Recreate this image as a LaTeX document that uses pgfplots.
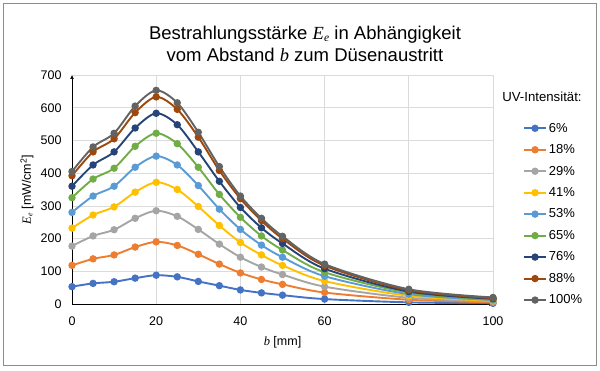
\documentclass[border=0pt]{standalone}
\usepackage{fontspec}
\setmainfont{Liberation Sans}
\newfontfamily\tnr{Liberation Serif}
\usepackage{graphicx}
\usepackage{pgfplots}
\pgfplotsset{compat=1.18}
\usetikzlibrary{arrows.meta}
\newcommand\Ee{{\tnr\itshape E\kern0.02em\raisebox{-0.28ex}{\scalebox{0.62}{e}}}}
\newcommand\bvar{{\tnr\itshape b}}
\definecolor{c1}{HTML}{4472C4}
\definecolor{c2}{HTML}{ED7D31}
\definecolor{c3}{HTML}{A5A5A5}
\definecolor{c4}{HTML}{FFC000}
\definecolor{c5}{HTML}{5B9BD5}
\definecolor{c6}{HTML}{70AD47}
\definecolor{c7}{HTML}{264478}
\definecolor{c8}{HTML}{9E480E}
\definecolor{c9}{HTML}{636363}
\pgfplotstableread{
x  a   b   c   d   e   f   g   h   i
0  53  118 177 232 280 325 360 392 405
5  63  138 208 272 330 382 425 465 480
10 68  150 227 297 360 415 465 505 522
15 79  174 262 342 418 482 538 585 605
20 88  190 285 372 452 522 583 633 653
25 83  179 268 350 425 490 548 595 615
30 69  152 228 298 362 418 465 510 525
35 56  122 183 240 290 335 375 408 420
40 43  95  143 188 228 265 295 322 330
45 34  75  113 150 180 208 233 255 262
50 27  60  90  118 143 165 185 200 207
60 15  35  53  70  85  97  108 117 122
80 5   13  19  25  30  35  38  42  45
100 2  5   8   10  12  14  16  18  20
}\data
\begin{document}
\begin{tikzpicture}[x=1pt,y=1pt]
\path[use as bounding box] (0,0) rectangle (600,371);
\draw[color=black!45, line width=0.8pt] (3.5,5.5) rectangle (596.5,367.5);
\node[font=\fontsize{18.5}{22}\selectfont, align=center] at (305,327) {Bestrahlungsstärke \Ee{} in Abhängigkeit\\vom Abstand \bvar{} zum Düsenaustritt};
\node[font=\fontsize{13.2}{15}\selectfont] at (542,274) {UV-Intensität:};
\begin{axis}[
  at={(72pt,67pt)}, anchor=south west,
  scale only axis, width=421pt, height=229pt,
  xmin=0, xmax=100, ymin=0, ymax=700,
  xtick={0,20,...,100}, ytick={0,100,...,700},
  grid=major, major grid style={color=black!14, line width=0.7pt},
  axis lines=left,
  axis line style={black, line width=0.7pt, -{Latex[length=4pt,width=4pt]}},
  major tick length=0pt,
  /pgf/number format/assume math mode=true,
  tick label style={font=\fontsize{12.5}{15}\selectfont},
  xticklabel style={yshift=-9pt},
  yticklabel style={xshift=-7pt},
  xlabel={\bvar{} [mm]},
  ylabel={\Ee{} [mW/cm\textsuperscript{2}]},
  label style={font=\fontsize{12.5}{15}\selectfont},
  xlabel style={at={(axis description cs:0.5,0)}, anchor=center, yshift=-38pt},
  ylabel style={at={(axis description cs:-0.107,0.5)}, anchor=center, rotate=0},
  clip=false,
  every axis plot/.append style={smooth, line width=1.9pt, mark=*, mark size=2.7pt},
  legend style={at={(axis description cs:1.071,0.80)}, anchor=north west, draw=none, fill=none,
    font=\fontsize{13}{15}\selectfont, row sep=6.9pt, inner sep=0pt, cells={anchor=west}},
  legend image code/.code={\draw[mark repeat=2,mark phase=2] plot coordinates {(0pt,0pt)(11pt,0pt)(22pt,0pt)};},
]
\addplot[c1] table[x=x,y=a]{\data};
\addplot[c2] table[x=x,y=b]{\data};
\addplot[c3] table[x=x,y=c]{\data};
\addplot[c4] table[x=x,y=d]{\data};
\addplot[c5] table[x=x,y=e]{\data};
\addplot[c6] table[x=x,y=f]{\data};
\addplot[c7] table[x=x,y=g]{\data};
\addplot[c8] table[x=x,y=h]{\data};
\addplot[c9] table[x=x,y=i]{\data};
\legend{6\%,18\%,29\%,41\%,53\%,65\%,76\%,88\%,100\%}
\end{axis}
\end{tikzpicture}
\end{document}
